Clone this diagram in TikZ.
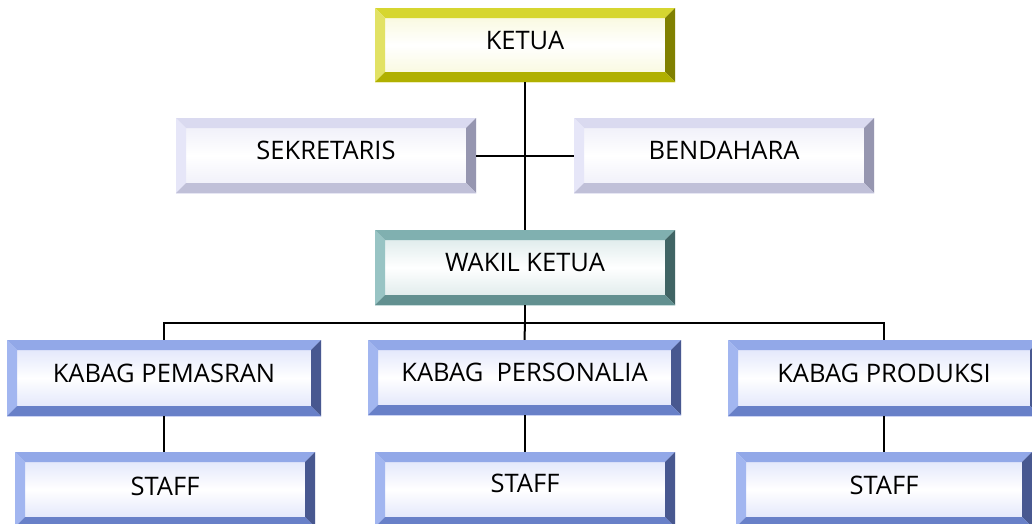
\documentclass[tikz,border=0pt]{standalone}
\usepackage{fontspec}
\setmainfont{Open Sans}
\definecolor{yT}{RGB}{214,214,48}
\definecolor{yL}{RGB}{226,226,100}
\definecolor{yR}{RGB}{128,128,0}
\definecolor{yB}{RGB}{176,176,0}
\definecolor{yF}{RGB}{248,248,214}
\definecolor{lT}{RGB}{218,218,240}
\definecolor{lL}{RGB}{230,230,248}
\definecolor{lR}{RGB}{150,150,176}
\definecolor{lB}{RGB}{192,192,216}
\definecolor{lF}{RGB}{236,236,248}
\definecolor{tT}{RGB}{128,176,176}
\definecolor{tL}{RGB}{152,196,196}
\definecolor{tR}{RGB}{64,100,100}
\definecolor{tB}{RGB}{98,144,144}
\definecolor{tF}{RGB}{214,230,230}
\definecolor{bT}{RGB}{146,168,232}
\definecolor{bL}{RGB}{162,182,240}
\definecolor{bR}{RGB}{72,88,144}
\definecolor{bB}{RGB}{104,128,200}
\definecolor{bF}{RGB}{218,224,250}
\newlength{\bw}\setlength{\bw}{10pt}
\tikzset{
  orgbox/.style n args={5}{inner sep=0pt, minimum height=75pt,
    font=\fontsize{25.5pt}{30pt}\selectfont, text=black,
    text height=18.2pt, text depth=10pt,
    top color=#5, bottom color=#5, middle color=white,
    path picture={
      \fill[#1] (path picture bounding box.north west) -- (path picture bounding box.north east)
        -- ([shift={(-\bw,-\bw)}]path picture bounding box.north east)
        -- ([shift={(\bw,-\bw)}]path picture bounding box.north west) -- cycle;
      \fill[#2] (path picture bounding box.north west) -- (path picture bounding box.south west)
        -- ([shift={(\bw,\bw)}]path picture bounding box.south west)
        -- ([shift={(\bw,-\bw)}]path picture bounding box.north west) -- cycle;
      \fill[#3] (path picture bounding box.north east) -- (path picture bounding box.south east)
        -- ([shift={(-\bw,\bw)}]path picture bounding box.south east)
        -- ([shift={(-\bw,-\bw)}]path picture bounding box.north east) -- cycle;
      \fill[#4] (path picture bounding box.south west) -- (path picture bounding box.south east)
        -- ([shift={(-\bw,\bw)}]path picture bounding box.south east)
        -- ([shift={(\bw,\bw)}]path picture bounding box.south west) -- cycle;
    }},
  yellowbox/.style={orgbox={yT}{yL}{yR}{yB}{yF}},
  lavbox/.style={orgbox={lT}{lL}{lR}{lB}{lF}},
  tealbox/.style={orgbox={tT}{tL}{tR}{tB}{tF}},
  bluebox/.style={orgbox={bT}{bL}{bR}{bB}{bF}},
  link/.style={draw=black, line width=2pt},
}
\begin{document}
\begin{tikzpicture}[x=1pt,y=-1pt]
\useasboundingbox (0,0) rectangle (1032,523);
\fill[white] (0,0) rectangle (1032,523);
\clip (0,0) rectangle (1032,523);
\node[yellowbox, minimum width=300pt, minimum height=74pt] (ketua) at (525,45) {KETUA};
\node[lavbox, minimum width=300pt] (sek) at (326,155.5) {SEKRETARIS};
\node[lavbox, minimum width=300pt] (ben) at (724,155.5) {BENDAHARA};
\node[tealbox, minimum width=300pt] (wakil) at (525,267.5) {WAKIL KETUA};
\node[bluebox, minimum width=314pt, minimum height=76pt] (k1) at (164,378) {KABAG PEMASRAN};
\node[bluebox, minimum width=313pt] (k2) at (524.5,377.5) {KABAG\ \ PERSONALIA};
\node[bluebox, minimum width=312pt, minimum height=76pt] (k3) at (884,378) {KABAG PRODUKSI};
\node[bluebox, minimum width=300pt, text depth=6pt] (s1) at (165,489.5) {STAFF};
\node[bluebox, minimum width=300pt, text depth=13pt] (s2) at (525,489.5) {STAFF};
\node[bluebox, minimum width=296pt, text depth=9pt] (s3) at (884,489.5) {STAFF};
\coordinate (bus) at (525,322.5);
\draw[link] (ketua.south) -- (wakil.north);
\draw[link] (sek.east) -- (ben.west);
\draw[link] (wakil.south) -- (bus);
\draw[link] (k1.north) |- (bus) -| (k3.north);
\draw[link] (bus) -- (k2.north);
\draw[link] (k1.south) -- (k1.south |- s1.north);
\draw[link] (k2.south) -- (k2.south |- s2.north);
\draw[link] (k3.south) -- (k3.south |- s3.north);
\end{tikzpicture}
\end{document}
